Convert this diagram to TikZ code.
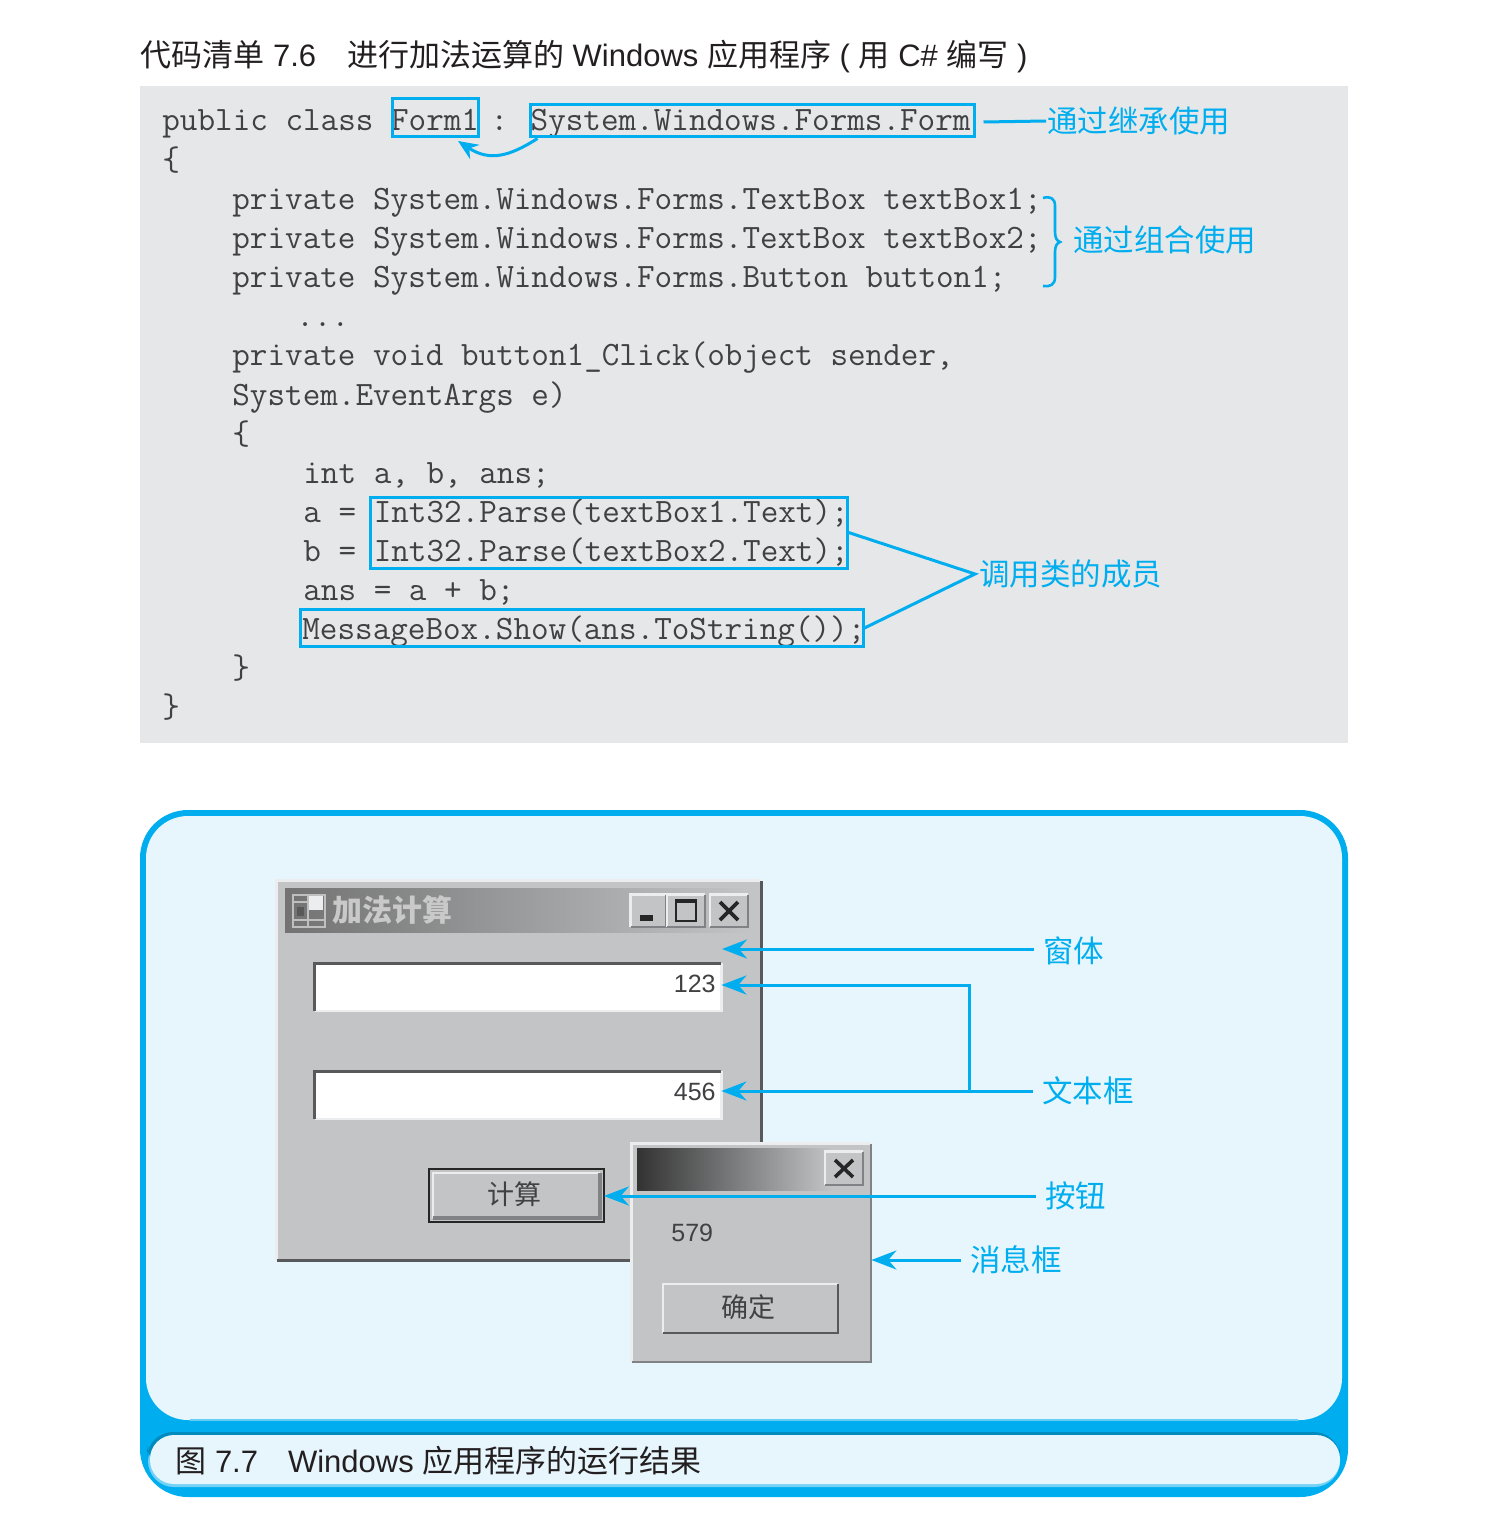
\documentclass[tikz,border=0pt]{standalone}
\usepackage{fontspec}
\usetikzlibrary{arrows.meta}
\setmainfont{Liberation Sans}
\newfontfamily\cjkfont{Noto Sans CJK SC}
\newcommand{\zh}[1]{{\cjkfont #1}}
\definecolor{callcyan}{HTML}{00AEEF}
\definecolor{codegrey}{HTML}{E6E7E8}
\definecolor{panelblue}{HTML}{E7F6FD}
\definecolor{inktext}{HTML}{231F20}
\definecolor{codeink}{HTML}{414042}
\definecolor{winface}{HTML}{C2C4C6}
\definecolor{winlight}{HTML}{ECEDEE}
\definecolor{windark}{HTML}{58595B}
\definecolor{winmid}{HTML}{808285}
\tikzset{
    heading/.style={anchor=base west, inner sep=0, text=inktext, font=\fontsize{15.5pt}{18pt}\selectfont},
    codeline/.style={anchor=base west, inner sep=0, text=codeink, font=\ttfamily\fontsize{17.08pt}{20pt}\selectfont},
    codebox/.style={draw=callcyan, line width=1.5pt, inner sep=0},
    calllabel/.style={anchor=west, inner xsep=4.5pt, inner ysep=0, text=callcyan, font=\cjkfont\fontsize{15.25pt}{18pt}\selectfont},
    callline/.style={draw=callcyan, line width=1.5pt},
    callarrow/.style={callline, -{Stealth[length=12.5pt,width=9.5pt]}},
    winpart/.style={fill=winface, inner sep=0},
    wintext/.style={text=codeink, inner sep=0, font=\fontsize{12.5pt}{15pt}\selectfont},
    winzh/.style={text=codeink, inner sep=0, font=\cjkfont\fontsize{13.5pt}{16pt}\selectfont},
    lightedge/.style={draw=winlight, line width=1.2pt},
    darkedge/.style={draw=windark, line width=1.2pt},
    midedge/.style={draw=winmid, line width=1pt}
}
% outlines of the window parts
\newcommand{\raised}[2][darkedge]{
    \draw[lightedge] (#2.south west) |- (#2.north east);
    \draw[#1] (#2.south west) -| (#2.north east);
}
\newcommand{\sunken}[1]{
    \draw[lightedge] (#1.south west) -| (#1.north east);
    \draw[darkedge, line width=1.6pt] (#1.south west) |- (#1.north east);
}
\begin{document}
\begin{tikzpicture}[x=0.5pt, y=-0.5pt]
    \useasboundingbox (0,0) rectangle (1488,1520);
    \fill[white] (0,0) rectangle (1488,1520);

    % listing
    \node[heading] (listtitle) at (140,67) {\zh{代码清单} 7.6\hspace{15.5pt}\zh{进行加法运算的} Windows \zh{应用程序} ( \zh{用} C\# \zh{编写} )};
    \fill[codegrey] (140,86) rectangle (1348,743);
    \node[codeline] (l1) at (162,131) {public class Form1\hspace{-3pt} :\hspace{-0.5pt} System.Windows.Forms.Form};
    \node[codeline] (l2) at (162,170) {\{};
    \node[codeline] (l3) at (232,209) {private System.Windows.Forms.TextBox textBox1;};
    \node[codeline] (l4) at (232,248) {private System.Windows.Forms.TextBox textBox2;};
    \node[codeline] (l5) at (232,287) {private System.Windows.Forms.Button button1;};
    \node[codeline] (l6) at (296,326) {...};
    \node[codeline] (l7) at (232,365) {private void button1\_Click(object sender,};
    \node[codeline] (l8) at (232,405) {System.EventArgs e)};
    \node[codeline] (l9) at (232,444) {\{};
    \node[codeline] (l10) at (303,483) {int a, b, ans;};
    \node[codeline] (l11) at (303,522) {a = Int32.Parse(textBox1.Text);};
    \node[codeline] (l12) at (303,561) {b = Int32.Parse(textBox2.Text);};
    \node[codeline] (l13) at (303,600) {ans = a + b;};
    \node[codeline] (l14) at (302,639) {MessageBox.Show(ans.ToString());};
    \node[codeline] (l15) at (232,678) {\}};
    \node[codeline] (l16) at (162,717) {\}};

    \node[codebox, minimum width=43pt, minimum height=19pt] (form1) at (435,118) {};
    \node[codebox, minimum width=222pt, minimum height=16pt] (formbase) at (752,121) {};
    \node[codebox, minimum width=238.5pt, minimum height=35.5pt] (parse) at (608.5,532.5) {};
    \node[codebox, minimum width=281.5pt, minimum height=18.5pt] (msgshow) at (581.5,628) {};

    \draw[callline, -{Stealth[length=10pt,width=8.5pt]}] (formbase.south west) ++(9,0) coordinate (fromform) .. controls (510,156) and (490,162) .. (458,141);
    \node[calllabel, inner xsep=0.5pt] (inherit) at (1046,121) {通过继承使用};
    \draw[callline] (formbase.east) ++(8,1) coordinate (frominherit) -- (inherit.west);
    \node[calllabel] (compose) at (1064,240) {通过组合使用};
    \draw[callline, line width=1.3pt] (1043,198) .. controls (1050,196) and (1055,198) .. (1055,206) -- (1055,232)
        .. controls (1055,238) and (1057,241) .. (1060,242) .. controls (1057,243) and (1055,246) .. (1055,252)
        -- (1055,277) .. controls (1055,285) and (1050,287) .. (1043,286);
    \node[calllabel, inner xsep=2pt] (member) at (975,574) {调用类的成员};
    \draw[callline] (parse.east) -- (member.west) -- (msgshow.east);

    % result panel
    \fill[callcyan] (140,810) [rounded corners=24pt] rectangle (1348,1497);
    \fill[panelblue] (146,816) [rounded corners=21pt] rectangle (1342,1420);
    \draw[draw=callcyan!60, line width=0.6pt] (190,1420) -- (1298,1420);
    \fill[callcyan!55] (148,1436) [rounded corners=13pt] rectangle (1340,1487);
    \fill[callcyan!80!black] (147,1432) [rounded corners=13pt] rectangle (1340,1470);
    \fill[panelblue] (150,1435) [rounded corners=12pt] rectangle (1340,1484);
    \node[heading] (figtitle) at (175,1472) {\zh{图} 7.7\hspace{15pt}Windows \zh{应用程序的运行结果}};

    % main window
    \node[winpart, minimum width=242pt, minimum height=189.5pt] (mainwin) at (519,1070.5) {};
    \raised{mainwin}
    \shade[left color=black!55, right color=winface] (285,888) rectangle (752,932);
    \node[text=winlight!85!black, inner sep=0, font=\cjkfont\bfseries\fontsize{15pt}{18pt}\selectfont] (wintitle) at (392,910) {加法计算};
    % icon
    \draw[draw=black!25, line width=0.7pt] (293,895) rectangle (325,927);
    \draw[draw=black!25, line width=0.7pt] (293,902) -- (308,902) (308,895) -- (308,927) (293,920) -- (325,920);
    \fill[winlight] (309,896) rectangle (323,910);
    \fill[black!65] (297,907) rectangle (304,916);
    \node[winpart, minimum width=17.5pt, minimum height=16pt] (minbtn) at (648.5,911) {};
    \node[winpart, minimum width=18.5pt, minimum height=16pt] (maxbtn) at (686,911) {};
    \node[winpart, minimum width=18.5pt, minimum height=16pt] (closebtn) at (729,911) {};
    \raised[midedge]{minbtn}
    \raised[midedge]{maxbtn}
    \raised[midedge]{closebtn}
    \fill[black!85] (640,915) rectangle (653,921);
    \draw[draw=black!85, line width=1pt] (676,900) rectangle (696,921);
    \draw[draw=black!85, line width=1pt] (676,902) -- (696,902);
    \draw[draw=black!85, line width=1.8pt] (720,902) -- (738,920) (738,902) -- (720,920);

    \node[fill=white, inner sep=0, minimum width=203pt, minimum height=23.5pt] (tb1) at (518,987) {};
    \sunken{tb1}
    \node[wintext, anchor=east] (tbval1) at (716,984) {123};
    \node[fill=white, inner sep=0, minimum width=203pt, minimum height=23.5pt] (tb2) at (518,1095) {};
    \sunken{tb2}
    \node[wintext, anchor=east] (tbval2) at (716,1092) {456};
    \node[winpart, minimum width=87pt, minimum height=26pt] (calcbtn) at (516.5,1195.5) {};
    \draw[lightedge] ([shift={(1.8pt,1.8pt)}]calcbtn.south west) |- ([shift={(-1.8pt,-1.8pt)}]calcbtn.north east);
    \draw[draw=winmid, line width=2pt] ([shift={(1.8pt,1.8pt)}]calcbtn.south west) -| ([shift={(-1.8pt,-1.8pt)}]calcbtn.north east);
    \draw[draw=black!85, line width=1.1pt] (calcbtn.south west) rectangle (calcbtn.north east);
    \node[winzh] (calctext) at (514,1194) {计算};

    % message box
    \node[winpart, minimum width=119.5pt, minimum height=109pt] (msgbox) at (751.5,1253) {};
    \raised[midedge]{msgbox}
    \shade[left color=black!80, right color=winface] (637,1148) rectangle (832,1190);
    \node[winpart, minimum width=18.5pt, minimum height=16.5pt] (msgclose) at (844,1168.5) {};
    \raised[midedge]{msgclose}
    \draw[draw=black!85, line width=1.8pt] (835,1160) -- (853,1177) (853,1160) -- (835,1177);
    \node[wintext, anchor=west] (msgval) at (671,1233) {579};
    \node[winpart, minimum width=87pt, minimum height=24pt] (okbtn) at (750.5,1308.5) {};
    \raised{okbtn}
    \node[winzh] (oktext) at (748,1307) {确定};

    % callouts
    \coordinate (winedge) at (722,949);
    \node[calllabel] (winlabel) at (1034,951) {窗体};
    \draw[callarrow] (winlabel.west |- winedge) -- (winedge);
    \node[calllabel] (tblabel) at (1033,1091) {文本框};
    \draw[callarrow] (tblabel.west) -- (tb2.east |- tblabel.west);
    \coordinate (tbjoin) at (969,1091);
    \draw[callarrow] (tbjoin) -- (969,985) -- (tb1.east |- 969,985);
    \node[calllabel] (btnlabel) at (1036,1196) {按钮};
    \draw[callarrow] (btnlabel.west) -- (calcbtn.east |- btnlabel.west);
    \node[calllabel] (msglabel) at (961,1260) {消息框};
    \draw[callarrow] (msglabel.west) -- (msgbox.east |- msglabel.west);
\end{tikzpicture}
\end{document}
